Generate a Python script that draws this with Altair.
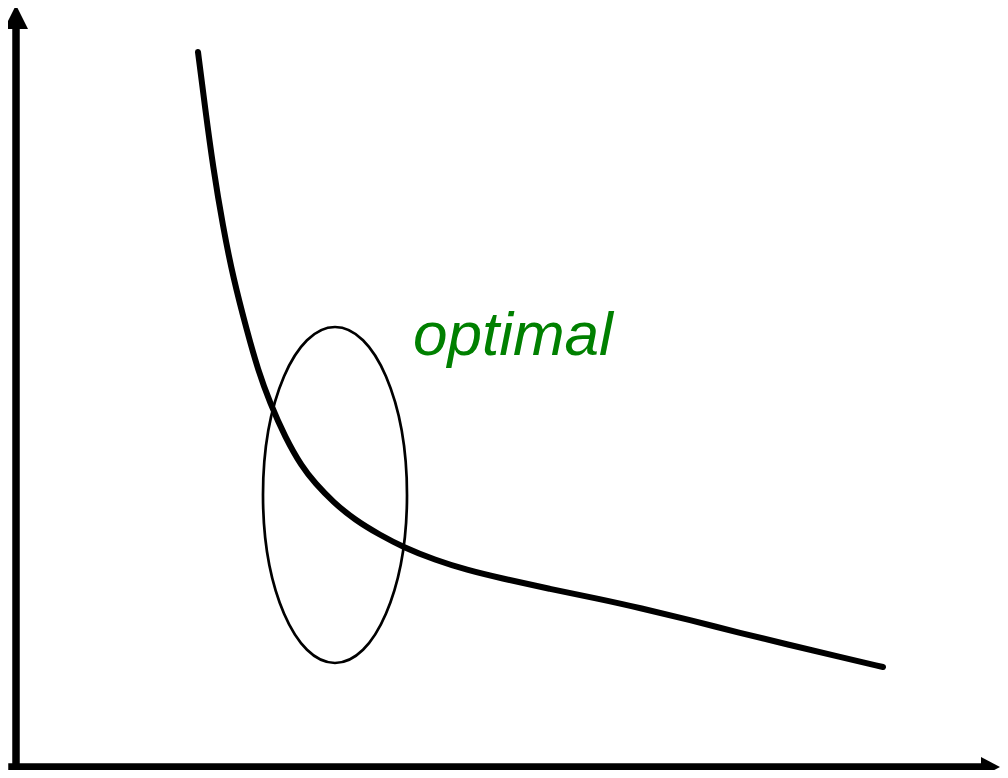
import altair as alt
import pandas as pd

# Curve (arbitrary units measured from the axis origin)
curve_x = [182, 189, 197, 207, 217, 231.5, 242, 254, 269, 286, 299, 317, 339, 364,
           387, 419, 451, 484, 534, 584, 624, 674, 724, 774, 824, 867]
curve_y = [719, 664, 604, 544, 494, 438, 401, 368, 334, 304, 288, 269, 251, 236,
           224, 211, 201, 193, 182, 172, 163, 151, 138, 126, 114, 104]

# Highlight ellipse centre (same units)
ellipse_x = [319]
ellipse_y = [276]

# Label
label_text = ["optimal"]
label_x = [397]
label_y = [416]

# Axis shafts and arrow heads
axis_rules = {"x": [0, -4], "x2": [0, 970], "y": [-4, 4], "y2": [745, 4]}
head_up = {"x": [0], "y": [754]}
head_right = {"x": [974], "y": [4]}

xs = alt.Scale(domain=[-8, 984], nice=False, zero=False)
ys = alt.Scale(domain=[1, 763], nice=False, zero=False)

curve_df = pd.DataFrame({"x": curve_x, "y": curve_y})
ell_df = pd.DataFrame({"x": ellipse_x, "y": ellipse_y})
lab_df = pd.DataFrame({"x": label_x, "y": label_y, "t": label_text})
rule_df = pd.DataFrame(axis_rules)
up_df = pd.DataFrame(head_up)
right_df = pd.DataFrame(head_right)

X = alt.X("x:Q", scale=xs, axis=None)
Y = alt.Y("y:Q", scale=ys, axis=None)

curve = alt.Chart(curve_df).mark_line(
    color="black", strokeWidth=6, interpolate="basis", strokeCap="round"
).encode(x=X, y=Y)

a, b, ka, kb = 0.4286, 1.0, 0.2367, 0.5523
ell_path = (f"M{a},0 C{a},{kb} {ka},{b} 0,{b} C{-ka},{b} {-a},{kb} {-a},0 "
            f"C{-a},{-kb} {-ka},{-b} 0,{-b} C{ka},{-b} {a},{-kb} {a},0 Z")
ellipse = alt.Chart(ell_df).mark_point(
    shape=ell_path, filled=False, size=336 * 336, color="black",
    strokeWidth=2.7, opacity=1
).encode(x=X, y=Y)

label = alt.Chart(lab_df).mark_text(
    font="Liberation Sans", fontStyle="italic", fontSize=62, color="#008000",
    align="left", baseline="alphabetic"
).encode(x=X, y=Y, text="t:N")

rules = alt.Chart(rule_df).mark_rule(
    color="black", strokeWidth=7.5, strokeCap="square"
).encode(x=X, x2="x2:Q", y=Y, y2="y2:Q")

up = alt.Chart(up_df).mark_point(
    shape="M0,-1 L1,1 L-1,1 Z", filled=True, size=576, color="black", opacity=1,
    strokeWidth=0
).encode(x=X, y=Y)

right = alt.Chart(right_df).mark_point(
    shape="M1,0 L-0.9,-1 L-0.9,1 Z", filled=True, size=400, color="black", opacity=1,
    strokeWidth=0
).encode(x=X, y=Y)

chart = alt.layer(rules, up, right, ellipse, curve, label).properties(
    width=992, height=762,
    autosize=alt.AutoSizeParams(type="none"),
    padding=0,
).configure_view(strokeWidth=0, stroke="transparent")

chart.save("out.html", embed_options={"renderer": "svg", "actions": False})
